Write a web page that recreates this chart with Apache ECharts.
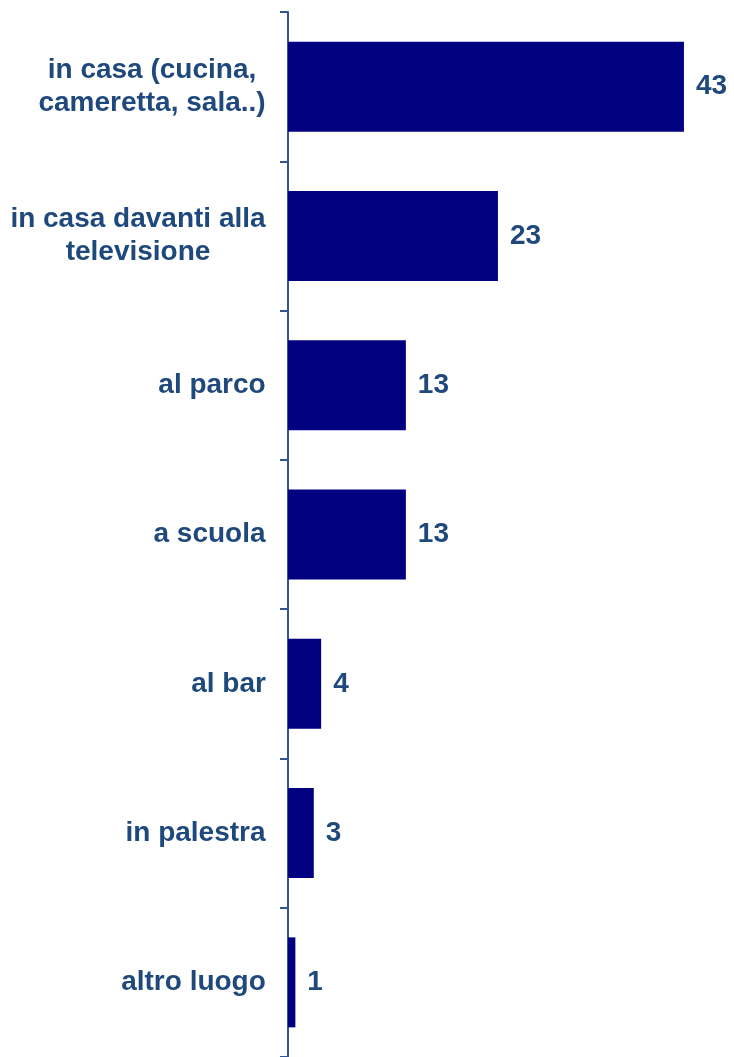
<!DOCTYPE html>
<html>
<head>
<meta charset="utf-8">
<script src="https://cdn.jsdelivr.net/npm/echarts@6/dist/echarts.min.js"></script>
<style>
html,body{margin:0;padding:0;background:#fff;}
#chart{width:734px;height:1057px;}
</style>
</head>
<body>
<div id="chart"></div>
<script>
const categories = [
  "in casa (cucina,\ncameretta, sala..)",
  "in casa davanti alla\ntelevisione",
  "al parco",
  "a scuola",
  "al bar",
  "in palestra",
  "altro luogo"
];
// bar lengths
const values = [43, 22.8, 12.8, 12.8, 3.6, 2.8, 0.8];
// labels printed next to the bars
const valueLabels = ["43", "23", "13", "13", "4", "3", "1"];

const FONT = "'Liberation Sans', Arial, sans-serif";
const LABEL_SIZE = 28;
const TEXT_COLOR = "#1F497D";

const cv = document.createElement('canvas').getContext('2d');
cv.font = "bold " + LABEL_SIZE + "px " + FONT;
const rich = {};
categories.forEach((c, i) => {
  const w = Math.max.apply(null, c.split("\n").map(s => cv.measureText(s).width));
  rich['c' + i] = {
    width: Math.ceil(w),
    align: 'center',
    fontSize: LABEL_SIZE,
    fontWeight: 'bold',
    fontFamily: FONT,
    color: TEXT_COLOR,
    lineHeight: 33
  };
});

const chart = echarts.init(document.getElementById('chart'), null, {renderer: 'canvas'});
chart.setOption({
  animation: false,
  grid: {left: 288, top: 12, width: 442, height: 1046, containLabel: false},
  xAxis: {type: 'value', min: 0, max: 48, show: false},
  yAxis: {
    type: 'category',
    data: categories,
    inverse: true,
    axisLine: {show: true, lineStyle: {color: '#2F5597', width: 2}},
    axisTick: {show: true, inside: false, length: 8, lineStyle: {color: '#2F5597', width: 2}},
    axisLabel: {
      margin: 22,
      align: 'right',
      formatter: function (val) {
        const i = categories.indexOf(val);
        return val.split("\n").map(s => '{c' + i + '|' + s + '}').join("\n");
      },
      rich: rich
    }
  },
  series: [{
    type: 'bar',
    data: values,
    barWidth: 90,
    itemStyle: {color: '#000080'},
    label: {
      show: true,
      position: 'right',
      distance: 12,
      fontSize: 28,
      fontWeight: 'bold',
      fontFamily: FONT,
      color: TEXT_COLOR,
      formatter: p => valueLabels[p.dataIndex]
    }
  }]
});
</script>
</body>
</html>
